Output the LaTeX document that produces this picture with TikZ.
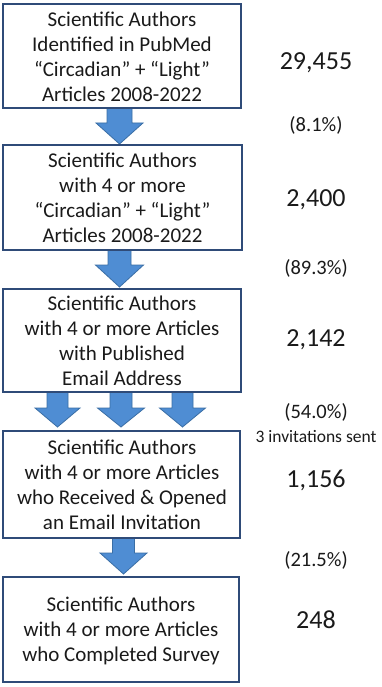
\documentclass[tikz,border=0pt]{standalone}
\usepackage{fontspec}
\setmainfont{Carlito}
\definecolor{boxline}{HTML}{2F4B78}
\definecolor{arrfill}{HTML}{4F8DD3}
\definecolor{arrline}{HTML}{3A6EA5}
\definecolor{txt}{HTML}{1A1A1A}
\newcommand{\blockarrow}[7]{% name, cx, ytop, yhead, ytip, shafthalf, headhalf
  \draw[arrowshape] (#2-#6,#3) -- (#2+#6,#3) -- (#2+#6,#4) -- (#2+#7,#4) -- (#2,#5) coordinate (#1)
    -- (#2-#7,#4) -- (#2-#6,#4) -- cycle;}
\begin{document}
\begin{tikzpicture}[x=1pt,y=-1pt,
  flowbox/.style={draw=boxline,line width=2.4pt},
  boxtext/.style={align=center,text=txt,font=\fontsize{21}{25}\selectfont,inner sep=0pt},
  bignum/.style={text=txt,font=\fontsize{26}{30}\selectfont,inner sep=0pt},
  pct/.style={text=txt,font=\fontsize{20.5}{25}\selectfont,inner sep=0pt},
  note/.style={text=txt,font=\fontsize{17.5}{21}\selectfont,inner sep=0pt},
  arrowshape/.style={fill=arrfill,draw=arrline,line width=0.8pt,line join=miter}]
\useasboundingbox (0,0) rectangle (381,687);
\fill[white] (0,0) rectangle (381,687);
% arrows
\blockarrow{a1}{119.5}{108}{123}{144}{12.5}{23.5}
\blockarrow{a2}{119.5}{250}{265}{287}{11.5}{24}
\blockarrow{a3}{57.5}{392}{408}{427}{10.5}{22.5}
\blockarrow{a4}{121}{392}{408}{427}{11}{23.5}
\blockarrow{a5}{182.5}{392}{408}{427}{10.5}{23}
\blockarrow{a6}{123.5}{538}{553}{574}{11}{23.5}
% boxes
\draw[flowbox] (3,4) rectangle (241,108);
\node[boxtext] (b1) at (122,57) {Scientific Authors\\Identified in PubMed\\“Circadian” + “Light”\\Articles 2008-2022};
\draw[flowbox] (3,145) rectangle (242,250);
\node[boxtext] (b2) at (122.5,197.5) {Scientific Authors\\with 4 or more\\“Circadian” + “Light”\\Articles 2008-2022};
\draw[flowbox] (3,289) rectangle (241,392);
\node[boxtext] (b3) at (122,341) {Scientific Authors\\with 4 or more Articles\\with Published\\Email Address};
\draw[flowbox] (3,431) rectangle (240,538);
\node[boxtext] (b4) at (122,484.5) {Scientific Authors\\with 4 or more Articles\\who Received \& Opened\\an Email Invitation};
\draw[flowbox] (3,577) rectangle (239,682);
\node[boxtext] (b5) at (121,631) {Scientific Authors\\with 4 or more Articles\\who Completed Survey};
% right column
\node[bignum] (n1) at (316,63) {29,455};
\node[pct] (p1) at (316,125) {(8.1\%)};
\node[bignum] (n2) at (316,200) {2,400};
\node[pct] (p2) at (316,268) {(89.3\%)};
\node[bignum] (n3) at (316,340) {2,142};
\node[pct] (p3) at (316,412) {(54.0\%)};
\node[note] (s3) at (316,437) {3 invitations sent};
\node[bignum] (n4) at (316,480) {1,156};
\node[pct] (p4) at (316,560) {(21.5\%)};
\node[bignum] (n5) at (316,620) {248};
\end{tikzpicture}
\end{document}
